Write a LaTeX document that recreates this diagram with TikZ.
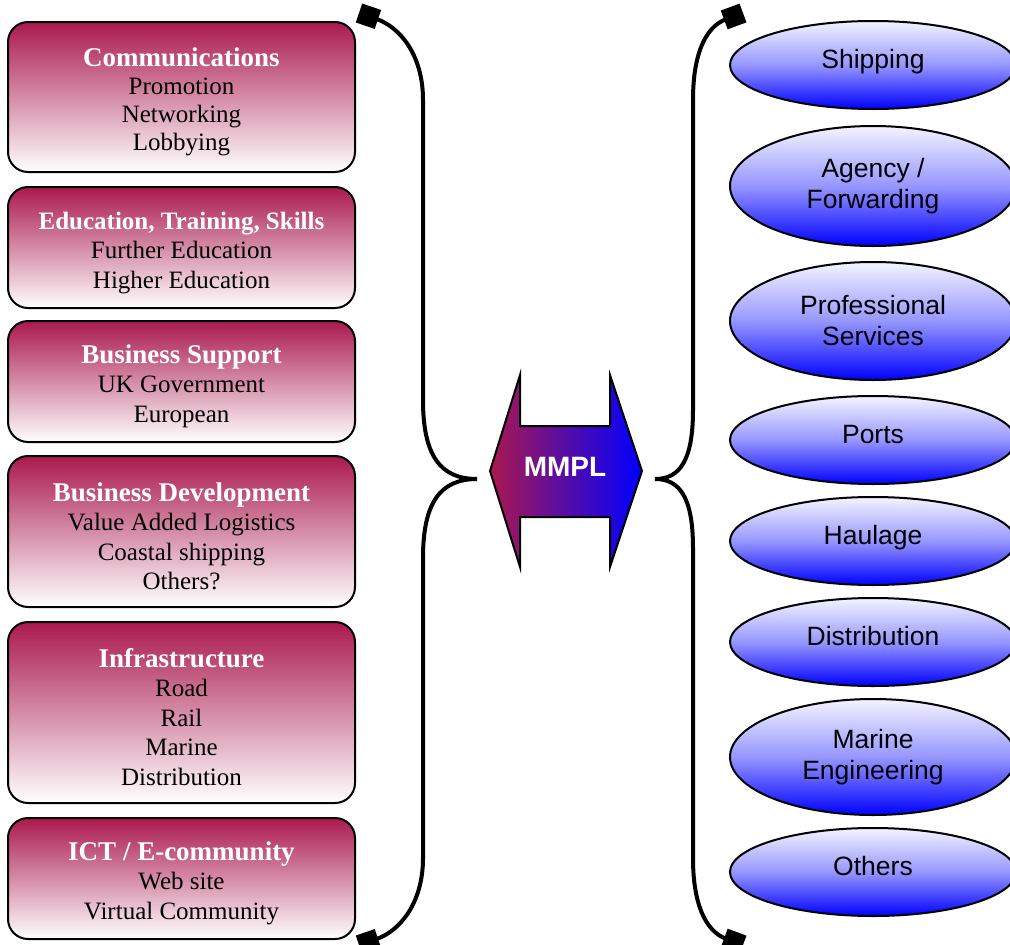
\documentclass[tikz,border=0pt]{standalone}
\usepackage{fontspec}
\setmainfont{Liberation Serif}
\setsansfont{Liberation Sans}
\usetikzlibrary{shapes.geometric,arrows.meta}

\definecolor{boxred}{RGB}{170,25,78}
\definecolor{paleblue}{RGB}{244,244,255}
\definecolor{midblue}{RGB}{150,150,255}

% fades (the shape covers 25bp to 75bp)
\pgfdeclareverticalshading{redfade}{100bp}{color(0bp)=(white); color(25bp)=(white); color(75bp)=(boxred); color(100bp)=(boxred)}
\pgfdeclareverticalshading{bluefade}{100bp}{color(0bp)=(blue); color(25bp)=(blue); color(50bp)=(midblue); color(75bp)=(paleblue); color(100bp)=(paleblue)}
\pgfdeclarehorizontalshading{arrowfade}{100bp}{color(0bp)=(boxred); color(25bp)=(boxred); color(75bp)=(blue); color(100bp)=(blue)}

\newcommand{\cathead}[2][27]{{\color{white}\bfseries\fontsize{#1}{29}\selectfont\rule{0pt}{28pt}#2}}

\tikzset{
  catbox/.style={draw=black, line width=2pt, rounded corners=20pt, shading=redfade,
    minimum width=347pt, align=center, inner sep=0pt, font=\fontsize{25}{29.5}\selectfont},
  sectorell/.style={ellipse, draw=black, line width=2pt, shading=bluefade,
    minimum width=286pt, minimum height=88pt, align=center, inner sep=0pt, font=\sffamily\fontsize{26.5}{31}\selectfont},
  oneline/.style={text height=19pt, text depth=13pt},
  curlyline/.style={line width=4pt, {Square[length=20pt,width=20pt]}-{Square[length=20pt,width=20pt]}}
}

\begin{document}
\begin{tikzpicture}[x=1pt, y=-1pt]
\useasboundingbox (0,0) rectangle (1010,945);

% themes on the left
\node [catbox, minimum height=150pt, font=\fontsize{25}{28}\selectfont] (comm) at (181.5,97) {\cathead{Communications}\\ Promotion\\ Networking\\ Lobbying};
\node [catbox, minimum height=121pt] (edu) at (181.5,247.5) {\cathead[25]{Education, Training, Skills}\\ Further Education\\ Higher Education};
\node [catbox, minimum height=121pt] (supp) at (181.5,381.5) {\cathead{Business Support}\\ UK Government\\ European};
\node [catbox, minimum height=151pt] (dev) at (181.5,531.5) {\cathead{Business Development}\\ Value Added Logistics\\ Coastal shipping\\ Others?};
\node [catbox, minimum height=181pt] (infra) at (181.5,712.5) {\cathead{Infrastructure}\\ Road\\ Rail\\ Marine\\ Distribution};
\node [catbox, minimum height=121pt] (ict) at (181.5,878.5) {\cathead{ICT / E-community}\\ Web site\\ Virtual Community};

% the two braces
\draw [curlyline] (359,13) .. controls (400,27) and (423,55) .. (423,100) -- (423,400)
  .. controls (423,455) and (440,479) .. (477,479) .. controls (440,479) and (423,503) .. (423,558)
  -- (423,858) .. controls (423,903) and (400,931) .. (359,945);
\draw [curlyline] (743,13) .. controls (705,27) and (693,55) .. (693,100) -- (693,410)
  .. controls (693,460) and (680,479) .. (655,479) .. controls (680,479) and (693,498) .. (693,548)
  -- (693,858) .. controls (693,903) and (705,931) .. (743,945);

% double arrow in the middle
\draw [line width=2pt, shading=arrowfade] (490,471) -- (520,375) -- (520,426) -- (610,426)
  -- (610,375) -- (642,471) -- (610,567) -- (610,517) -- (520,517) -- (520,567) -- cycle;
\node [text=white, font=\sffamily\bfseries\fontsize{28}{30}\selectfont] (mmpl) at (565,467) {MMPL};

% sectors on the right
\node [sectorell, oneline] (ship) at (873,65) {Shipping};
\node [sectorell, minimum height=120pt] (agency) at (873,186) {Agency /\\ Forwarding};
\node [sectorell, minimum height=118pt] (prof) at (873,321) {Professional\\ Services};
\node [sectorell, oneline] (ports) at (873,440) {Ports};
\node [sectorell, oneline] (haul) at (873,541) {Haulage};
\node [sectorell, oneline] (dist) at (873,642) {Distribution};
\node [sectorell, minimum height=116pt] (marine) at (873,757) {Marine\\ Engineering};
\node [sectorell, oneline] (others) at (873,872) {Others};
\end{tikzpicture}
\end{document}
